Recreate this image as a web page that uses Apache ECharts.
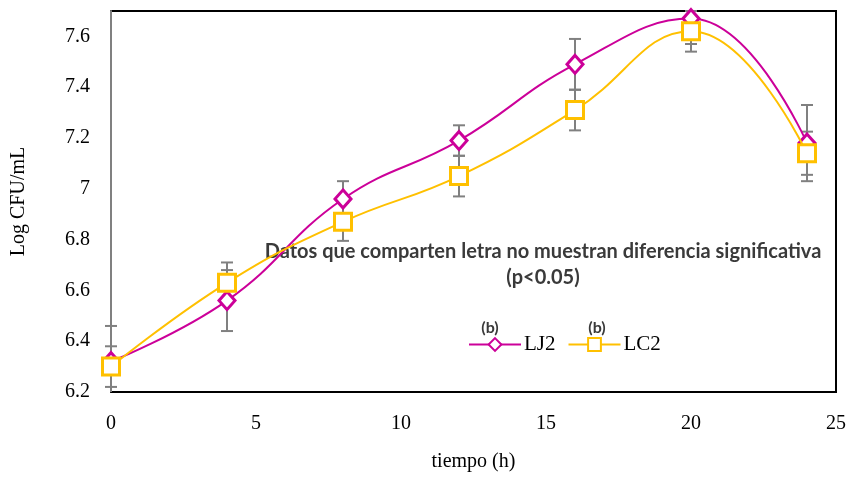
<!DOCTYPE html>
<html>
<head>
<meta charset="utf-8">
<script src="https://cdn.jsdelivr.net/npm/echarts@6/dist/echarts.min.js"></script>
<style>
  html, body { margin: 0; padding: 0; background: #fff; }
  #chart { width: 851px; height: 477px; }
</style>
</head>
<body>
<div id="chart"></div>
<script>
// Sampling times (h)
const hours = [0, 4, 8, 12, 16, 20, 24];
// Mean Log CFU/mL per strain
const lj2 = [6.32, 6.56, 6.96, 7.19, 7.49, 7.67, 7.18];
const lc2 = [6.30, 6.63, 6.87, 7.05, 7.31, 7.62, 7.14];
// Standard deviations
const lj2Err = [0.14, 0.12, 0.07, 0.06, 0.10, 0.10, 0.15];
const lc2Err = [0.08, 0.08, 0.075, 0.08, 0.08, 0.08, 0.085];
// Axis ranges / ticks
const xTicks = { min: 0, max: 25, step: 5 };
const yTicks = { min: 6.2, max: 7.7, step: 0.2 };

const MAGENTA = '#CC0099';
const GOLD = '#FFC000';
const SERIF = '"Liberation Serif", "DejaVu Serif", serif';
const SANS = 'Lato, "Open Sans", sans-serif';

const pairs = (xs, ys) => xs.map((x, i) => [x, ys[i]]);
const errRows = (xs, ys, es) => xs.map((x, i) => [x, ys[i], es[i]]);

// Vertical error bar with caps, clipped to the value range
function renderErr(params, api) {
  const x = api.value(0), y = api.value(1), e = api.value(2);
  const lo = Math.max(y - e, yTicks.min);
  const hi = Math.min(y + e, yTicks.max);
  const pLo = api.coord([x, lo]);
  const pHi = api.coord([x, hi]);
  const half = 6;
  const style = { stroke: '#808080', lineWidth: 2 };
  const children = [
    { type: 'line', shape: { x1: pLo[0], y1: pLo[1], x2: pHi[0], y2: pHi[1] }, style }
  ];
  if (y + e <= yTicks.max) children.push({ type: 'line', shape: { x1: pHi[0] - half, y1: pHi[1], x2: pHi[0] + half, y2: pHi[1] }, style });
  if (y - e >= yTicks.min) children.push({ type: 'line', shape: { x1: pLo[0] - half, y1: pLo[1], x2: pLo[0] + half, y2: pLo[1] }, style });
  return { type: 'group', children };
}

const chart = echarts.init(document.getElementById('chart'), null, { renderer: 'canvas' });

chart.setOption({
  animation: false,
  backgroundColor: '#fff',
  grid: {
    left: 111, top: 11, width: 725, height: 386,
    show: true, borderColor: '#000', borderWidth: 2, backgroundColor: 'transparent'
  },
  xAxis: {
    type: 'value', min: xTicks.min, max: xTicks.max, interval: xTicks.step,
    name: 'tiempo (h)', nameLocation: 'middle', nameGap: 60,
    nameTextStyle: { fontFamily: SERIF, fontSize: 20, color: '#000' },
    axisLine: { show: true, lineStyle: { color: '#000', width: 2 } },
    axisTick: { show: false },
    splitLine: { show: false },
    axisLabel: { fontFamily: SERIF, fontSize: 20, color: '#000', margin: 22 }
  },
  yAxis: {
    type: 'value', min: yTicks.min, max: yTicks.max, interval: yTicks.step,
    name: 'Log CFU/mL', nameLocation: 'middle', nameGap: 82,
    nameTextStyle: { fontFamily: SERIF, fontSize: 20, color: '#000' },
    axisLine: { show: true, lineStyle: { color: '#808080', width: 2 } },
    axisTick: { show: false },
    splitLine: { show: false },
    axisLabel: {
      fontFamily: SERIF, fontSize: 20, color: '#000', margin: 21,
      formatter: v => (v > 7.65 ? '' : String(Math.round(v * 10) / 10))
    }
  },
  legend: {
    data: ['LJ2', 'LC2'],
    left: 463, top: 329,
    itemWidth: 52, itemHeight: 16, itemGap: 12,
    textStyle: { fontFamily: SERIF, fontSize: 21, color: '#000', padding: [0, 0, 0, -2] }
  },
  graphic: [
    {
      type: 'text', x: 543, y: 239,
      style: {
        text: 'Datos que comparten letra no muestran diferencia significativa\n(p<0.05)',
        font: 'bold 20px ' + SANS, fill: '#3a3a3a', align: 'center', verticalAlign: 'top', lineHeight: 26
      }
    },
    { type: 'text', x: 490, y: 328, style: { text: '(b)', font: 'bold 16px ' + SANS, fill: '#3a3a3a', align: 'center', verticalAlign: 'middle' } },
    { type: 'text', x: 597, y: 328, style: { text: '(b)', font: 'bold 16px ' + SANS, fill: '#3a3a3a', align: 'center', verticalAlign: 'middle' } }
  ],
  series: [
    {
      type: 'custom', name: 'errLJ2', renderItem: renderErr, z: 1,
      data: errRows(hours, lj2, lj2Err), encode: { x: 0, y: 1 }, silent: true
    },
    {
      type: 'custom', name: 'errLC2', renderItem: renderErr, z: 1,
      data: errRows(hours, lc2, lc2Err), encode: { x: 0, y: 1 }, silent: true
    },
    {
      name: 'LJ2', type: 'line', smooth: 0.45, z: 3,
      data: pairs(hours, lj2),
      symbol: 'diamond', symbolSize: [16, 18],
      lineStyle: { color: MAGENTA, width: 2 },
      itemStyle: { color: '#fff', borderColor: MAGENTA, borderWidth: 3 }
    },
    {
      name: 'LC2', type: 'line', smooth: 0.45, z: 4,
      data: pairs(hours, lc2),
      symbol: 'rect', symbolSize: 17,
      lineStyle: { color: GOLD, width: 2 },
      itemStyle: { color: '#fff', borderColor: GOLD, borderWidth: 3 }
    }
  ]
});
</script>
</body>
</html>
